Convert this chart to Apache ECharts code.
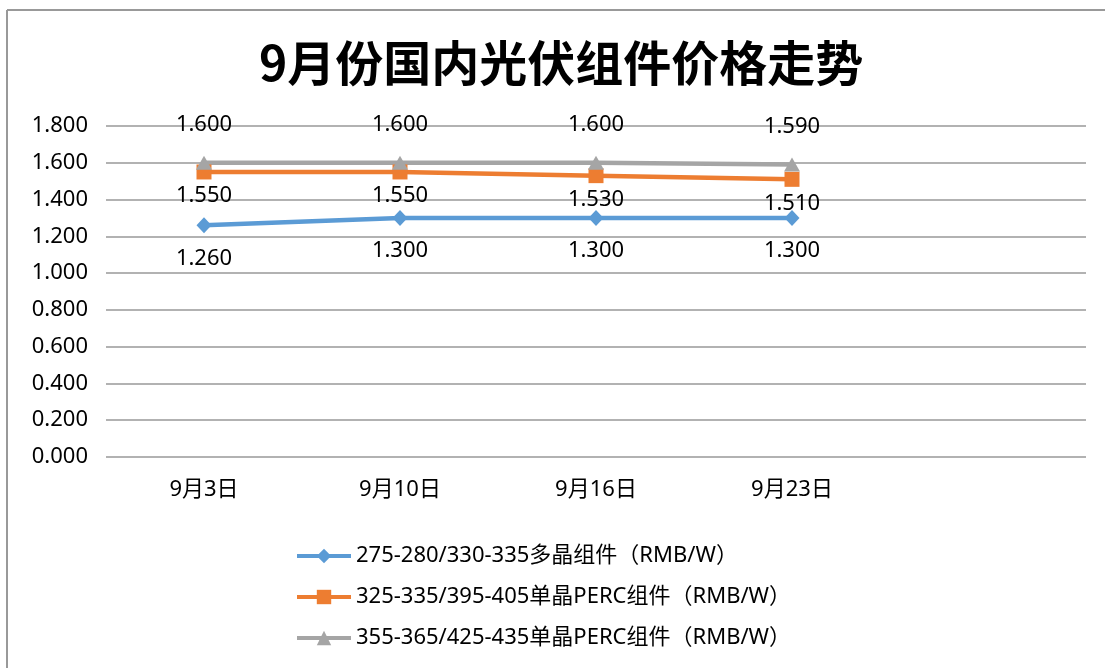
<!DOCTYPE html>
<html>
<head>
<meta charset="utf-8">
<script src="https://cdn.jsdelivr.net/npm/echarts@6/dist/echarts.min.js"></script>
<style>
html,body{margin:0;padding:0;background:#fff;}
#chart{width:1105px;height:668px;}
</style>
</head>
<body>
<div id="chart"></div>
<script>
const titleText = '9月份国内光伏组件价格走势';
const categories = ['9月3日', '9月10日', '9月16日', '9月23日', ''];
const seriesNames = [
  '275-280/330-335多晶组件（RMB/W）',
  '325-335/395-405单晶PERC组件（RMB/W）',
  '355-365/425-435单晶PERC组件（RMB/W）'
];
const polyValues = [1.26, 1.30, 1.30, 1.30];
const perc1Values = [1.55, 1.55, 1.53, 1.51];
const perc2Values = [1.60, 1.60, 1.60, 1.59];
const yTicks = { min: 0, max: 1.8, interval: 0.2 };

const FONT = '"Noto Sans", "Noto Sans CJK SC", sans-serif';
const colors = ['#5B9BD5', '#ED7D31', '#A5A5A5'];
const symbols = ['diamond', 'rect', 'triangle'];
const symbolSizes = [[15, 16], 15, [16, 14]];
const labelOffsets = [[0, 33], [0, 24], [0, -38]];
const values = [polyValues, perc1Values, perc2Values];

const chart = echarts.init(document.getElementById('chart'), null, { renderer: 'canvas' });
chart.setOption({
  backgroundColor: '#ffffff',
  animation: false,
  title: {
    text: titleText,
    left: 254,
    top: 34,
    textStyle: { fontFamily: '"Noto Sans CJK SC", sans-serif', fontSize: 48, fontWeight: 'bold', color: '#000' }
  },
  graphic: [
    { type: 'line', shape: { x1: 7, y1: 10, x2: 1105, y2: 10 }, style: { stroke: '#999', lineWidth: 2 } },
    { type: 'line', shape: { x1: 7, y1: 10, x2: 7, y2: 668 }, style: { stroke: '#999', lineWidth: 2 } }
  ],
  legend: {
    orient: 'vertical',
    left: 290,
    top: 539,
    itemWidth: 54,
    itemHeight: 18,
    itemGap: 17,
    lineStyle: { width: 4 },
    textStyle: { fontFamily: FONT, fontSize: 22, lineHeight: 24, color: '#000' },
    data: seriesNames
  },
  grid: { left: 106, right: 19, top: 126, bottom: 211 },
  xAxis: {
    type: 'category',
    data: categories,
    boundaryGap: true,
    axisLine: { show: false },
    axisTick: { show: false },
    axisLabel: { margin: 22, fontFamily: FONT, fontSize: 22, color: '#000', interval: 0 }
  },
  yAxis: {
    type: 'value',
    min: yTicks.min,
    max: yTicks.max,
    interval: yTicks.interval,
    axisLine: { show: false },
    axisTick: { show: false },
    axisLabel: {
      margin: 18,
      fontFamily: FONT,
      fontSize: 22,
      color: '#000',
      formatter: v => v.toFixed(3)
    },
    splitLine: { lineStyle: { color: '#999', width: 1.5 } }
  },
  series: seriesNames.map((name, i) => ({
    name: name,
    type: 'line',
    data: values[i],
    symbol: symbols[i],
    symbolSize: symbolSizes[i],
    showAllSymbol: true,
    itemStyle: { color: colors[i] },
    lineStyle: { color: colors[i], width: 4.5 },
    label: {
      show: true,
      position: 'inside',
      offset: labelOffsets[i],
      fontFamily: FONT,
      fontSize: 22,
      color: '#000',
      formatter: p => p.value.toFixed(3)
    }
  }))
});
</script>
</body>
</html>
